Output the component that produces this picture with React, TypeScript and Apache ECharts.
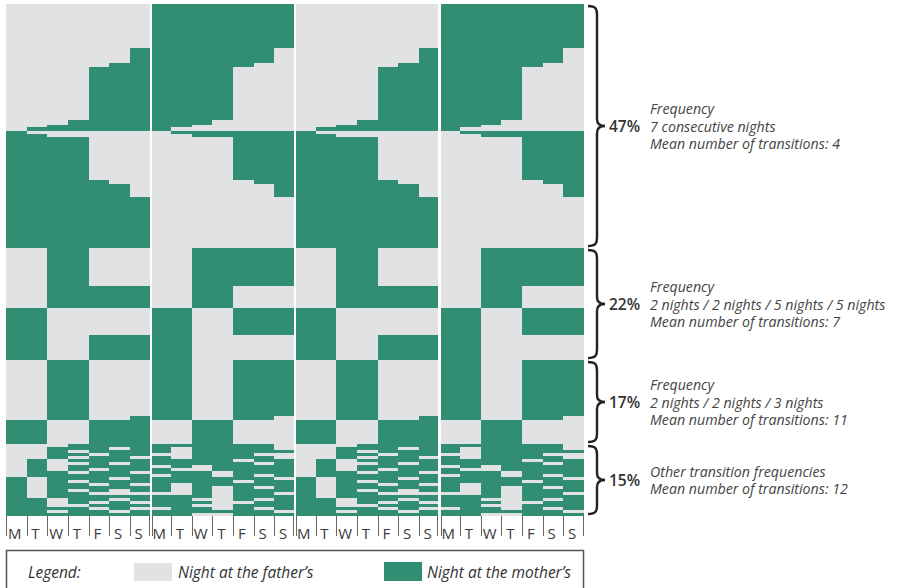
import React, { useEffect, useRef } from "react";
import * as echarts from "echarts";

// ---------- data ----------
const DAY_LABELS = ["M", "T", "W", "T", "F", "S", "S"];
const WEEK_COUNT = 4;
const FATHER_COLOR = "#e1e2e4";
const MOTHER_COLOR = "#318e73";

const GROUP_SHARES = ["47%", "22%", "17%", "15%"];
const GROUP_TEXTS = [
  ["Frequency", "7 consecutive nights", "Mean number of transitions: 4"],
  ["Frequency", "2 nights / 2 nights / 5 nights / 5 nights", "Mean number of transitions: 7"],
  ["Frequency", "2 nights / 2 nights / 3 nights", "Mean number of transitions: 11"],
  ["Other transition frequencies", "Mean number of transitions: 12"],
];

// rows: [share weight, 28 nights (0 = father, 1 = mother)]
const GROUP1_ROWS: [number, string][] = [
  [44, "0000000 1111111 0000000 1111111"],
  [15, "0000001 1111110 0000001 1111110"],
  [4, "0000011 1111100 0000011 1111100"],
  [53, "0000111 1111000 0000111 1111000"],
  [5, "0001111 1110000 0001111 1110000"],
  [2, "0011111 1100000 0011111 1100000"],
  [4, "0111111 1000000 0111111 1000000"],
  [3, "1000000 0111111 1000000 0111111"],
  [3, "1100000 0011111 1100000 0011111"],
  [43, "1111000 0000111 1111000 0000111"],
  [4, "1111100 0000011 1111100 0000011"],
  [13, "1111110 0000001 1111110 0000001"],
  [51, "1111111 0000000 1111111 0000000"],
];
const GROUP2_ROWS: [number, string][] = [
  [38, "0011000 0011111 0011000 0011111"],
  [22, "0011111 0011000 0011111 0011000"],
  [27, "1100000 1100111 1100000 1100111"],
  [25, "1100111 1100000 1100111 1100000"],
];
const GROUP3_ROWS: [number, string][] = [
  [56, "0011000 1100111 0011000 1100111"],
  [4, "0011001 1100110 0011001 1100110"],
  [24, "1100111 0011000 1100111 0011000"],
];
const GROUP4_ROWS: [number, string][] = [
  [3, "0001111 1111110 0001111 1111110"],
  [3, "0011101 1011110 0011101 1011110"],
  [3, "0010111 1011111 0010111 1011111"],
  [3, "0011011 0011100 0011011 0011100"],
  [3, "0010110 1011110 0010110 1011110"],
  [3, "0101111 1111011 0101111 1111011"],
  [3, "0100101 1111101 0100101 1111101"],
  [3, "0101111 0101111 0101111 0101111"],
  [3, "0101011 1001111 0101011 1001111"],
  [3, "0110110 1110111 0110110 1110111"],
  [3, "0111111 0110101 0111111 0110101"],
  [3, "1011101 1111110 1011101 1111110"],
  [3, "1010111 1111011 1010111 1111011"],
  [3, "1011010 1011111 1011010 1011111"],
  [3, "1011111 1010101 1011111 1010101"],
  [3, "1010101 1010111 1010101 1010111"],
  [3, "1011000 0010110 1011000 0010110"],
  [3, "1011111 1110111 1011111 1110111"],
  [3, "1101101 1100101 1101101 1100101"],
  [3, "1101010 1110011 1101010 1110011"],
  [3, "1100111 1100111 1100111 1100111"],
  [3, "1111010 0110101 1111010 0110101"],
  [3, "1101101 1111110 1101101 1111110"],
  [3, "1111111 1100111 1111111 1100111"],
];
const GROUPS = [GROUP1_ROWS, GROUP2_ROWS, GROUP3_ROWS, GROUP4_ROWS];

const LEGEND_LABELS = ["Night at the father\u2019s", "Night at the mother\u2019s"];

// ---------- derived ----------
const NIGHTS = WEEK_COUNT * 7;
const X_CATEGORIES: string[] = [];
for (let w = 0; w < WEEK_COUNT; w++) X_CATEGORIES.push(...DAY_LABELS);

const runs: number[][] = [];
const groupBounds: [number, number][] = [];
let cursor = 0;
GROUPS.forEach((rows) => {
  const start = cursor;
  rows.forEach(([weight, pattern]) => {
    const p = pattern.replace(/ /g, "");
    for (let wk = 0; wk < WEEK_COUNT; wk++) {
      let s = wk * 7;
      for (let d = wk * 7 + 1; d <= wk * 7 + 7; d++) {
        if (d === wk * 7 + 7 || p[d] !== p[s]) {
          runs.push([s, d - 1, cursor, cursor + weight, Number(p[s])]);
          s = d;
        }
      }
    }
    cursor += weight;
  });
  groupBounds.push([start, cursor]);
});
const TOTAL = cursor;
const tickData = X_CATEGORIES.map((_, i) => [i, TOTAL]);

const FONT = "'Open Sans', 'Noto Sans', sans-serif";
const WEEK_GAP = 2;

export default function App() {
  const ref = useRef<HTMLDivElement>(null);
  useEffect(() => {
    if (!ref.current) return;
    const chart = echarts.init(ref.current, undefined, { renderer: "svg" });
    const option: any = {
      animation: false,
      backgroundColor: "#ffffff",
      grid: { left: 6, right: 318, top: 4, bottom: 72 },
      xAxis: {
        type: "category",
        data: X_CATEGORIES,
        boundaryGap: true,
        axisLine: { show: false },
        axisTick: { show: false },
        splitLine: { show: false },
        axisLabel: {
          interval: 0,
          margin: 9,
          fontSize: 15,
          color: "#3a3a3a",
          fontFamily: FONT,
          padding: [0, 3, 0, 0],
        },
      },
      yAxis: {
        type: "value",
        min: 0,
        max: TOTAL,
        inverse: true,
        show: false,
      },
      series: [
        {
          type: "custom",
          name: "nights",
          data: runs,
          encode: { x: [0, 1], y: [2, 3] },
          renderItem: (params: any, api: any) => {
            const d0 = api.value(0);
            const d1 = api.value(1);
            const bw = api.size([1, 0])[0];
            const c0 = api.coord([d0, api.value(2)]);
            const c1 = api.coord([d1, api.value(3)]);
            let x0 = c0[0] - bw / 2;
            let x1 = c1[0] + bw / 2;
            if (d0 % 7 === 0 && d0 > 0) x0 += WEEK_GAP / 2;
            if (d1 % 7 === 6 && d1 < NIGHTS - 1) x1 -= WEEK_GAP / 2;
            x0 = Math.round(x0);
            x1 = Math.round(x1);
            const top = Math.round(c0[1]);
            const bottom = Math.round(c1[1]);
            return {
              type: "rect",
              shape: { x: x0, y: top, width: x1 - x0, height: bottom - top },
              style: { fill: api.value(4) ? MOTHER_COLOR : FATHER_COLOR },
            };
          },
        },
        {
          type: "custom",
          name: "ticks",
          data: tickData,
          encode: { x: 0, y: 1 },
          silent: true,
          renderItem: (params: any, api: any) => {
            const i = api.value(0);
            const bw = api.size([1, 0])[0];
            const c = api.coord([i, api.value(1)]);
            const yb = Math.round(c[1]);
            const children: any[] = [];
            let xl = c[0] - bw / 2;
            if (i % 7 === 0 && i > 0) xl += WEEK_GAP / 2;
            const mk = (x: number) => ({
              type: "line",
              shape: { x1: Math.round(x) + 0.5, y1: yb, x2: Math.round(x) + 0.5, y2: yb + 20 },
              style: { stroke: "#666", lineWidth: 1 },
            });
            children.push(mk(xl));
            if (i % 7 === 6) {
              let xr = c[0] + bw / 2;
              if (i < NIGHTS - 1) xr -= WEEK_GAP / 2;
              children.push(mk(xr - 1));
            }
            return { type: "group", children };
          },
        },
      ],
    };
    chart.setOption(option);

    const px = (v: number) => chart.convertToPixel({ yAxisIndex: 0 }, v) as number;
    const graphics: any[] = [];
    const x0 = 588, x1 = 597, x2 = 605;
    const braceStyle = { stroke: "#222", lineWidth: 2.4, fill: "none" };
    const LINE_STEP = 17.5;
    groupBounds.forEach(([s, e], gi) => {
      const T = px(s) + 2;
      const B = px(e) - 2;
      const M = (px(s) + px(e)) / 2;
      const r = 9;
      const rm = 7;
      graphics.push(
        { type: "bezierCurve", shape: { x1: x0, y1: T, cpx1: x1 - 1, cpy1: T, cpx2: x1, cpy2: T + 3, x2: x1, y2: T + r }, style: braceStyle },
        { type: "line", shape: { x1: x1, y1: T + r, x2: x1, y2: M - rm }, style: braceStyle },
        { type: "bezierCurve", shape: { x1: x1, y1: M - rm, cpx1: x1, cpy1: M - 2, cpx2: x1 + 3, cpy2: M, x2: x2, y2: M }, style: braceStyle },
        { type: "bezierCurve", shape: { x1: x2, y1: M, cpx1: x1 + 3, cpy1: M, cpx2: x1, cpy2: M + 2, x2: x1, y2: M + rm }, style: braceStyle },
        { type: "line", shape: { x1: x1, y1: M + rm, x2: x1, y2: B - r }, style: braceStyle },
        { type: "bezierCurve", shape: { x1: x1, y1: B - r, cpx1: x1, cpy1: B - 3, cpx2: x1 - 1, cpy2: B, x2: x0, y2: B }, style: braceStyle },
        {
          type: "text",
          x: 609,
          y: M,
          style: { text: GROUP_SHARES[gi], fontFamily: FONT, fontSize: 15.5, fontWeight: 600, fill: "#333", verticalAlign: "middle", align: "left" },
        }
      );
      const lines = GROUP_TEXTS[gi];
      lines.forEach((t, k) => {
        graphics.push({
          type: "text",
          x: 650,
          y: M + (k - (lines.length - 1) / 2) * LINE_STEP,
          style: { text: t, fontFamily: FONT, fontSize: 14.2, fontStyle: "italic", fill: "#444", verticalAlign: "middle", align: "left" },
        });
      });
    });

    // legend box
    const legendText = { fontFamily: FONT, fontSize: 15.5, fontStyle: "italic", fill: "#333", verticalAlign: "middle" };
    graphics.push(
      { type: "rect", shape: { x: 6.5, y: 550.5, width: 577, height: 60 }, style: { fill: "none", stroke: "#555", lineWidth: 1.5 } },
      { type: "text", x: 28, y: 572, style: { text: "Legend:", ...legendText } },
      { type: "rect", shape: { x: 134, y: 563, width: 38, height: 18 }, style: { fill: FATHER_COLOR } },
      { type: "text", x: 178, y: 572, style: { text: LEGEND_LABELS[0], ...legendText } },
      { type: "rect", shape: { x: 384, y: 562, width: 38, height: 19 }, style: { fill: MOTHER_COLOR } },
      { type: "text", x: 427, y: 572, style: { text: LEGEND_LABELS[1], ...legendText } }
    );
    chart.setOption({ graphic: graphics });

    return () => chart.dispose();
  }, []);
  return <div ref={ref} style={{ position: "fixed", left: 0, top: 0, width: 902, height: 588 }} />;
}
